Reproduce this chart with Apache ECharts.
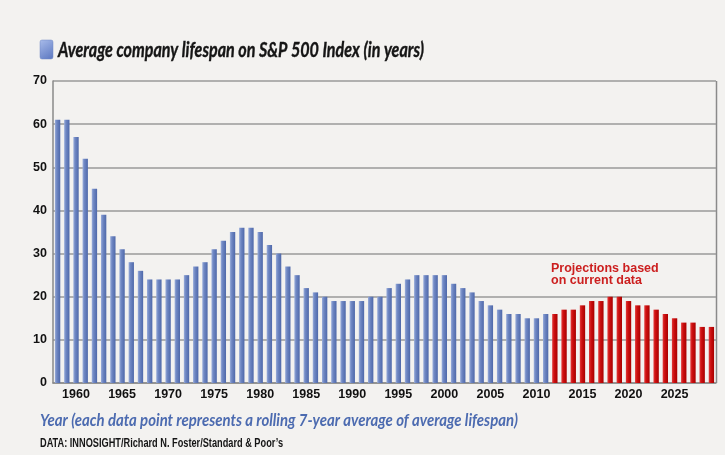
<!DOCTYPE html>
<html>
<head>
<meta charset="utf-8">
<script src="https://cdn.jsdelivr.net/npm/echarts@6/dist/echarts.min.js"></script>
<style>
  html, body { margin: 0; padding: 0; background: #f3f2f0; }
  #chart { width: 725px; height: 455px; }
</style>
</head>
<body>
<div id="chart"></div>
<script>
// years 1958 - 2029, blue = actual, red = projection
var years = [];
for (var y = 1958; y <= 2029; y++) { years.push(String(y)); }

var actual = [61, 61, 57, 52, 45, 39, 34, 31, 28, 26,
              24, 24, 24, 24, 25, 27, 28, 31, 33, 35,
              36, 36, 35, 32, 30, 27, 25, 22, 21, 20,
              19, 19, 19, 19, 20, 20, 22, 23, 24, 25,
              25, 25, 25, 23, 22, 21, 19, 18, 17, 16,
              16, 15, 15, 16];
var projected = [16, 17, 17, 18, 19, 19, 20, 20, 19, 18,
                 18, 17, 16, 15, 14, 14, 13, 13];

var yTicks = [0, 10, 20, 30, 40, 50, 60, 70];

var titleText = 'Average company lifespan on S&P 500 Index (in years)';
var xTitleText = 'Year (each data point represents a rolling 7-year average of average lifespan)';
var sourceText = 'DATA: INNOSIGHT/Richard N. Foster/Standard & Poor\u2019s';

// pad the two series so they line up on the shared category axis
var blueData = actual.concat(projected.map(function () { return '-'; }));
var redData = actual.map(function () { return '-'; }).concat(projected);

// the original uses a condensed face, squeeze a normal one to the same width
var ctx = document.createElement('canvas').getContext('2d');
function squeeze(text, font, width) {
    ctx.font = font;
    return width / ctx.measureText(text).width;
}

var titleFont = 'italic bold 21px Lato, "Open Sans", sans-serif';
var xTitleFont = 'italic bold 17px Lato, "Open Sans", sans-serif';
var sourceFont = 'bold 12.5px "Liberation Sans", Arial, sans-serif';

var myChart = echarts.init(document.getElementById('chart'));

option = {
    backgroundColor: '#f3f2f0',
    animation: false,
    grid: { left: 53, right: 9, top: 81, bottom: 72 },
    xAxis: [
        {
            type: 'category',
            data: years,
            boundaryGap: true,
            axisLine: { lineStyle: { color: '#8a8a8a', width: 1.5 } },
            axisTick: { interval: 0, length: 3, lineStyle: { color: '#999' } },
            axisLabel: { show: false }
        },
        {
            type: 'category',
            data: years,
            position: 'bottom',
            boundaryGap: true,
            axisLine: { show: false },
            axisTick: {
                alignWithLabel: true,
                length: 7,
                lineStyle: { color: '#555', width: 1.5 },
                interval: function (i, v) { return Number(v) % 5 === 0; }
            },
            axisLabel: {
                interval: function (i, v) { return Number(v) % 5 === 0; },
                fontFamily: '"Liberation Sans", Arial, sans-serif',
                fontWeight: 'bold',
                fontSize: 12.5,
                color: '#111',
                margin: 5
            }
        }
    ],
    yAxis: {
        type: 'value',
        min: yTicks[0],
        max: yTicks[yTicks.length - 1],
        interval: 10,
        axisLine: { show: true, lineStyle: { color: '#8a8a8a', width: 1.5 } },
        axisTick: { show: false },
        axisLabel: {
            fontFamily: '"Liberation Sans", Arial, sans-serif',
            fontWeight: 'bold',
            fontSize: 12.5,
            color: '#111',
            margin: 6
        },
        splitLine: { lineStyle: { color: '#9a9a9a', width: 1.5 } }
    },
    graphic: [
        {
            type: 'line',
            shape: { x1: 716.5, y1: 81, x2: 716.5, y2: 383 },
            style: { stroke: '#8a8a8a', lineWidth: 1.5 }
        },
        {
            type: 'rect',
            shape: { x: 40, y: 40, width: 13, height: 19, r: 2 },
            style: {
                fill: new echarts.graphic.LinearGradient(0, 0, 1, 1, [
                    { offset: 0, color: '#a9bcea' },
                    { offset: 1, color: '#5a76c0' }
                ]),
                stroke: '#7088c4',
                lineWidth: 0.5
            }
        },
        {
            type: 'text',
            x: 58,
            y: 50,
            scaleX: squeeze(titleText, titleFont, 366),
            style: {
                text: titleText,
                fill: '#151515',
                font: titleFont,
                verticalAlign: 'middle',
                stroke: '#151515',
                lineWidth: 0.4
            }
        },
        {
            type: 'text',
            left: 551,
            top: 262,
            style: {
                text: 'Projections based\non current data',
                fill: '#cc1f1f',
                font: 'bold 12.5px "Liberation Sans", Arial, sans-serif',
                lineHeight: 12
            }
        },
        {
            type: 'text',
            x: 40,
            y: 421,
            scaleX: squeeze(xTitleText, xTitleFont, 478),
            style: {
                text: xTitleText,
                fill: '#4c6bb0',
                font: xTitleFont,
                verticalAlign: 'middle'
            }
        },
        {
            type: 'text',
            x: 40,
            y: 444,
            scaleX: squeeze(sourceText, sourceFont, 243),
            style: {
                text: sourceText,
                fill: '#151515',
                font: sourceFont,
                verticalAlign: 'middle'
            }
        }
    ],
    series: [
        {
            name: 'Actual',
            type: 'bar',
            data: blueData,
            barWidth: '58%',
            barGap: '-100%',
            itemStyle: {
                color: new echarts.graphic.LinearGradient(0, 0, 1, 0, [
                    { offset: 0, color: '#9aaedb' },
                    { offset: 0.35, color: '#6f87c3' },
                    { offset: 1, color: '#4e68a9' }
                ])
            }
        },
        {
            name: 'Projection',
            type: 'bar',
            data: redData,
            barWidth: '58%',
            barGap: '-100%',
            itemStyle: {
                color: new echarts.graphic.LinearGradient(0, 0, 1, 0, [
                    { offset: 0, color: '#e23a3a' },
                    { offset: 0.4, color: '#cc0f0f' },
                    { offset: 1, color: '#a80000' }
                ])
            }
        }
    ]
};

myChart.setOption(option, true);
</script>
</body>
</html>
